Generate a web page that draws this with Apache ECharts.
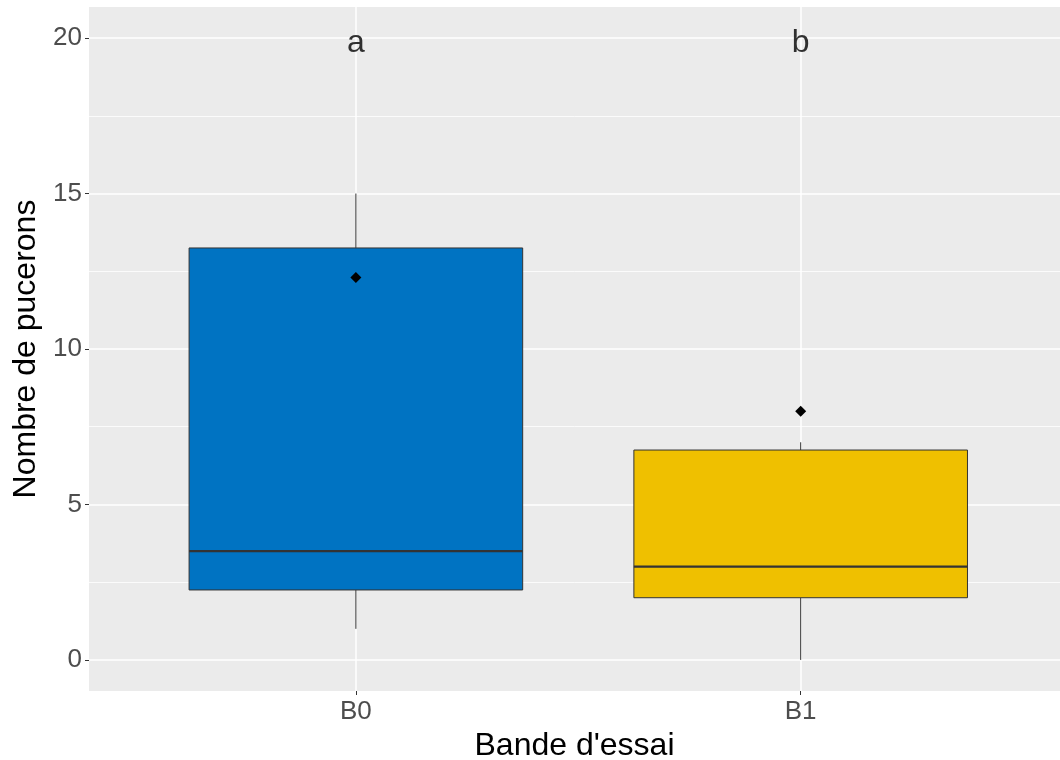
<!DOCTYPE html>
<html>
<head>
<meta charset="utf-8">
<script src="https://cdn.jsdelivr.net/npm/echarts@6/dist/echarts.min.js"></script>
<style>
html,body{margin:0;padding:0;background:#fff;}
#main{width:1060px;height:760px;}
</style>
</head>
<body>
<div id="main"></div>
<script>
// ---- data ----
var categories = ['B0', 'B1'];
var whiskerLow = [1, 0];
var q1 = [2.25, 2];
var median = [3.5, 3];
var q3 = [13.25, 6.75];
var whiskerHigh = [15, 7];
var means = [12.3, 8];
var letters = ['a', 'b'];
var letterY = [20, 20];
var yMajorTicks = [0, 5, 10, 15, 20];
var yMinorTicks = [2.5, 7.5, 12.5, 17.5];
var fills = ['#0073C2', '#EFC000'];

var FONT = 'Liberation Sans, Arial, sans-serif';

var boxData = categories.map(function (c, i) {
  return [i, whiskerLow[i], q1[i], median[i], q3[i], whiskerHigh[i]];
});
var meanData = categories.map(function (c, i) { return [i, means[i]]; });
var letterData = categories.map(function (c, i) { return [i, letterY[i]]; });

var chart = echarts.init(document.getElementById('main'));
chart.setOption({
  animation: false,
  backgroundColor: '#ffffff',
  grid: {
    left: 89, right: 0, top: 7, bottom: 69,
    containLabel: false,
    outerBoundsMode: 'none',
    show: true, backgroundColor: '#EBEBEB', borderWidth: 0
  },
  xAxis: {
    type: 'value',
    min: -0.6, max: 1.583,
    axisLine: { show: false, onZero: false },
    axisTick: { show: true, length: 4, lineStyle: { color: '#333333', width: 1 }, customValues: [0, 1] },
    axisLabel: {
      customValues: [0, 1],
      formatter: function (v) { return categories[Math.round(v)]; },
      color: '#4D4D4D', fontSize: 26, fontFamily: FONT, margin: 8
    },
    splitLine: { show: true, lineStyle: { color: '#ffffff', width: 1.5 } },
    name: "Bande d'essai",
    nameLocation: 'middle',
    nameGap: 34,
    nameTextStyle: { color: '#000000', fontSize: 32, fontFamily: FONT }
  },
  yAxis: [{
    type: 'value',
    min: -1, max: 21,
    axisLine: { show: false, onZero: false },
    axisTick: { show: true, length: 4, lineStyle: { color: '#333333', width: 1 }, customValues: yMajorTicks },
    axisLabel: {
      customValues: yMajorTicks,
      color: '#4D4D4D', fontSize: 26, fontFamily: FONT, margin: 7
    },
    splitLine: { show: true, lineStyle: { color: '#ffffff', width: 1.5 } },
    name: 'Nombre de pucerons',
    nameLocation: 'middle',
    nameGap: 44,
    nameTextStyle: { color: '#000000', fontSize: 32, fontFamily: FONT }
  }, {
    type: 'value',
    min: -1, max: 21,
    position: 'left',
    axisLine: { show: false, onZero: false },
    axisTick: { show: false, customValues: yMinorTicks },
    axisLabel: { show: false, customValues: yMinorTicks },
    splitLine: { show: true, lineStyle: { color: '#ffffff', width: 0.8 } }
  }],
  series: [{
    type: 'custom',
    yAxisIndex: 0,
    data: boxData,
    z: 2,
    renderItem: function (params, api) {
      var x = api.value(0);
      var lo = api.coord([x, api.value(1)]);
      var pq1 = api.coord([x, api.value(2)]);
      var pmed = api.coord([x, api.value(3)]);
      var pq3 = api.coord([x, api.value(4)]);
      var hi = api.coord([x, api.value(5)]);
      var half = api.size([0.75, 0])[0] / 2;
      var stroke = '#333333';
      return {
        type: 'group',
        children: [
          { type: 'line', shape: { x1: lo[0], y1: lo[1], x2: pq1[0], y2: pq1[1] }, style: { stroke: stroke, lineWidth: 1 } },
          { type: 'line', shape: { x1: pq3[0], y1: pq3[1], x2: hi[0], y2: hi[1] }, style: { stroke: stroke, lineWidth: 1 } },
          { type: 'rect', shape: { x: pq1[0] - half, y: pq3[1], width: 2 * half, height: pq1[1] - pq3[1] },
            style: { fill: fills[params.dataIndex], stroke: stroke, lineWidth: 1 } },
          { type: 'line', shape: { x1: pmed[0] - half, y1: pmed[1], x2: pmed[0] + half, y2: pmed[1] }, style: { stroke: stroke, lineWidth: 2.2 } }
        ]
      };
    }
  }, {
    type: 'scatter',
    data: meanData,
    symbol: 'diamond',
    symbolSize: 11,
    itemStyle: { color: '#000000', opacity: 1 },
    z: 3
  }, {
    type: 'scatter',
    data: letterData,
    symbolSize: 0,
    z: 3,
    label: {
      show: true,
      position: 'inside',
      offset: [0, 5],
      formatter: function (p) { return letters[p.dataIndex]; },
      color: '#000000', fontSize: 32, fontFamily: FONT
    }
  }]
});
</script>
</body>
</html>
